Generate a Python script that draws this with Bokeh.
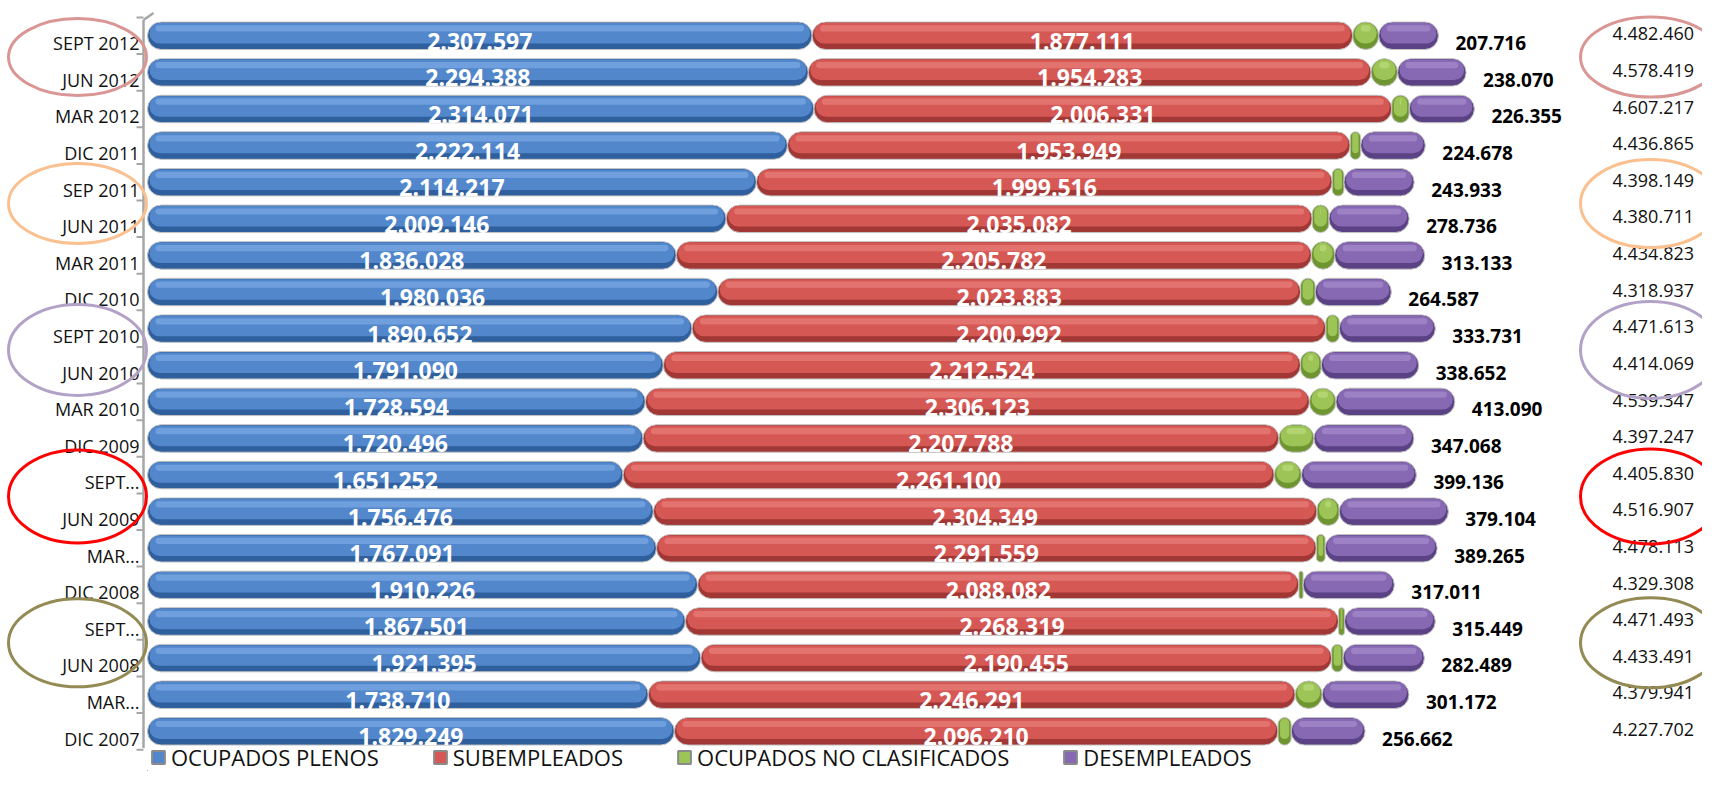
from bokeh.plotting import figure
from bokeh.models import Range1d, Legend, LegendItem, ColumnDataSource
from bokeh.core.properties import value
from bokeh.embed import file_html
from bokeh.resources import INLINE

# ---------------- data (bottom -> top) ----------------
categories = ["DIC 2007", "MAR...", "JUN 2008", "SEPT...", "DIC 2008", "MAR...",
              "JUN 2009", "SEPT...", "DIC 2009", "MAR 2010", "JUN 2010", "SEPT 2010",
              "DIC 2010", "MAR 2011", "JUN 2011", "SEP 2011", "DIC 2011", "MAR 2012",
              "JUN 2012", "SEPT 2012"]
plenos = [1829249, 1738710, 1921395, 1867501, 1910226, 1767091, 1756476, 1651252,
          1720496, 1728594, 1791090, 1890652, 1980036, 1836028, 2009146, 2114217,
          2222114, 2314071, 2294388, 2307597]
subempleados = [2096210, 2246291, 2190455, 2268319, 2088082, 2291559, 2304349, 2261100,
                2207788, 2306123, 2212524, 2200992, 2023883, 2205782, 2035082, 1999516,
                1953949, 2006331, 1954283, 1877111]
no_clasificados = [45581, 93768, 39152, 20224, 13989, 30198, 76978, 94342,
                   121895, 91540, 71803, 46238, 50431, 79880, 57747, 40483,
                   36124, 60460, 91678, 90036]
desempleados = [256662, 301172, 282489, 315449, 317011, 389265, 379104, 399136,
                347068, 413090, 338652, 333731, 264587, 313133, 278736, 243933,
                224678, 226355, 238070, 207716]
totales = [4227702, 4379941, 4433491, 4471493, 4329308, 4478113, 4516907, 4405830,
           4397247, 4539347, 4414069, 4471613, 4318937, 4434823, 4380711, 4398149,
           4436865, 4607217, 4578419, 4482460]
series_names = ["OCUPADOS PLENOS", "SUBEMPLEADOS", "OCUPADOS NO CLASIFICADOS", "DESEMPLEADOS"]
# highlighted pairs: (index of upper label, colour)
highlight_pairs = [(19, "#d99694"), (15, "#fac090"), (11, "#b3a2c7"), (7, "#ff0000"), (3, "#948a54")]

# ---------------- layout constants ----------------
W, H = 1702, 771
RX, RY = 1.0, H / 787               # reference px -> canvas px
X0 = 147 * RX                       # canvas px where value 0 sits
PX = 288e-6 * RX                    # canvas px per person
Y_TOP, Y_BOT = 36 * RY, 746 * RY    # centres of top / bottom bars
n = len(categories)
S = (Y_BOT - Y_TOP) / (n - 1)       # canvas px per category


def xd(ref_x):
    """data x for a reference-pixel x position"""
    return (ref_x * RX - X0) / PX


def wd(ref_px):
    """data width of a reference-pixel distance"""
    return ref_px * RX / PX


def fmt(v):
    return f"{v:,}".replace(",", ".")


idx = list(range(n))

p = figure(width=W, height=H, output_backend="svg", toolbar_location=None,
           x_range=Range1d(-X0 / PX, (W - X0) / PX),
           y_range=Range1d(-(H - Y_BOT) / S, (n - 1) + Y_TOP / S),
           x_axis_type=None, y_axis_type=None, min_border=0)
p.outline_line_color = None
p.xgrid.visible = False
p.ygrid.visible = False
p.background_fill_color = "white"

palette = [
    ("#2f5f9c", "#5287cc", "#93bcef"),
    ("#a13835", "#d65855", "#f29490"),
    ("#6f9530", "#9dc457", "#cde892"),
    ("#5a4285", "#8668b3", "#b8a2da"),
]
series = [plenos, subempleados, no_clasificados, desempleados]

# ---------------- axis line with ticks ----------------
ax_x = xd(143)
y_ax_top = (n - 1) + (Y_TOP - 20 * RY) / S
y_ax_bot = -(763 * RY - Y_BOT) / S
p.segment(x0=[ax_x], y0=[y_ax_bot], x1=[ax_x], y1=[y_ax_top],
          line_color="#a6a6a6", line_width=2.5)
p.segment(x0=[ax_x], y0=[y_ax_top], x1=[xd(153)], y1=[y_ax_top + 7 / S],
          line_color="#a6a6a6", line_width=2.5)
ticks = [i - 0.5 for i in range(n + 1)]
p.segment(x0=[ax_x] * len(ticks), y0=ticks, x1=[xd(136)] * len(ticks), y1=ticks,
          line_color="#a6a6a6", line_width=2)

# ---------------- bars ----------------
BH = 0.75
cum = [0] * n
for s_vals, (dark, main, light) in zip(series, palette):
    left = cum[:]
    right = [a + b for a, b in zip(cum, s_vals)]
    cum = right
    src = ColumnDataSource(dict(y=idx, left=left, right=right))
    p.hbar(y="y", left="left", right="right", height=BH, source=src,
           fill_color=dark, line_color="#c4c4c4", line_width=1, border_radius=14)
    ins = wd(2)
    l2 = [min(a + ins, (a + b) / 2) for a, b in zip(left, right)]
    r2 = [max(b - ins, (a + b) / 2) for a, b in zip(left, right)]
    src2 = ColumnDataSource(dict(y=[i + 0.07 for i in idx], left=l2, right=r2))
    p.hbar(y="y", left="left", right="right", height=0.56, source=src2,
           fill_color=main, line_color=None, border_radius=10)
    ins3 = wd(8)
    l3 = [min(a + ins3, (a + b) / 2) for a, b in zip(left, right)]
    r3 = [max(b - ins3, (a + b) / 2) for a, b in zip(left, right)]
    src3 = ColumnDataSource(dict(y=[i + 0.2 for i in idx], left=l3, right=r3))
    p.hbar(y="y", left="left", right="right", height=0.17, source=src3,
           fill_color=light, fill_alpha=0.45, line_color=None, border_radius=3)

# ---------------- labels inside bars ----------------
font = value("Open Sans")
for k in range(2):
    left = [0] * n if k == 0 else plenos
    right = plenos if k == 0 else [a + b for a, b in zip(plenos, subempleados)]
    src = ColumnDataSource(dict(x=[(a + b) / 2 for a, b in zip(left, right)],
                                y=[i - 0.15 for i in idx],
                                t=[fmt(v) for v in series[k]]))
    p.text(x="x", y="y", text="t", source=src, text_align="center",
           text_baseline="alphabetic", text_color="white", text_font=font,
           text_font_size="23px", text_font_style="bold")

# desempleados labels
src = ColumnDataSource(dict(x=[c + wd(17) for c in cum], y=[i - 0.20 for i in idx],
                            t=[fmt(v) for v in desempleados]))
p.text(x="x", y="y", text="t", source=src, text_align="left", text_baseline="alphabetic",
       text_color="black", text_font=font, text_font_size="19px", text_font_style="bold")

# totals
src = ColumnDataSource(dict(x=[xd(1612)] * n, y=[i + 0.05 for i in idx],
                            t=[fmt(v) for v in totales]))
p.text(x="x", y="y", text="t", source=src, text_align="left", text_baseline="alphabetic",
       text_color="#111111", text_font=font, text_font_size="18px")

# category labels
src = ColumnDataSource(dict(x=[xd(139)] * n, y=[i - 0.20 for i in idx], t=categories))
p.text(x="x", y="y", text="t", source=src, text_align="right", text_baseline="alphabetic",
       text_color="#111111", text_font=font, text_font_size="18px")

# ---------------- highlight ellipses ----------------
ey = [i - 0.5 - 3 / S for i, _ in highlight_pairs]
ec = [c for _, c in highlight_pairs]
eh_left = [77, 80, 91, 93, 88]
eh_right = [80, 88, 97, 95, 90]
p.ellipse(x=[xd(77)] * len(ey), y=ey, width=[138] * len(ey), height=eh_left,
          width_units="screen", height_units="screen", fill_color=None,
          line_color=ec, line_width=3)
p.ellipse(x=[xd(1650)] * len(ey), y=ey, width=[140] * len(ey), height=eh_right,
          width_units="screen", height_units="screen", fill_color=None,
          line_color=ec, line_width=3)

# ---------------- legend ----------------
items = []
for name, (dark, main, light) in zip(series_names, palette):
    r = p.hbar(y=[-50], left=[0], right=[1], height=0.1, fill_color=main,
               line_color="#8a8a8a", line_width=2)
    items.append(LegendItem(label=name, renderers=[r]))
legend = Legend(items=items, orientation="horizontal", location=(150, -1),
                glyph_width=16, glyph_height=16, label_standoff=5, spacing=53,
                padding=0, margin=0, border_line_alpha=0, background_fill_alpha=0,
                label_text_font="Open Sans", label_text_font_size="22px",
                label_text_color="#111111")
p.add_layout(legend)

open("out.html", "w").write(file_html(p, INLINE))
